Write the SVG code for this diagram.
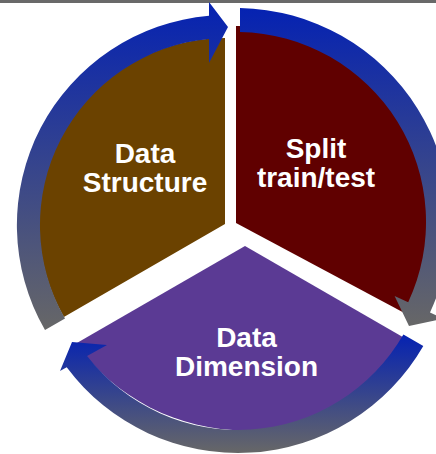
<svg xmlns="http://www.w3.org/2000/svg" width="436" height="454" viewBox="0 0 436 454">
<defs>
<linearGradient id="arrowGrad" x1="0" y1="0" x2="0" y2="1">
<stop offset="0" stop-color="#0522B2"/>
<stop offset="1" stop-color="#676767"/>
</linearGradient>
<style>
.label{font-family:"Liberation Sans",Arial,sans-serif;font-weight:bold;font-size:28px;fill:#FFFFFF;text-anchor:middle}
.arrow{fill:url(#arrowGrad)}
</style>
</defs>
<rect x="0" y="0" width="436" height="3" fill="#696969"/>
<g id="node-data-structure">
<path d="M 225,224 L 63.9,317 A 186 186 0 0 1 225,38 Z" fill="#6B4200"/>
<text class="label" x="145" y="163">Data</text>
<text class="label" x="145" y="192">Structure</text>
</g>
<g id="node-split">
<path d="M 236,223 L 236,26 A 196 196 0 0 1 410,316 Z" fill="#600000"/>
<text class="label" x="316" y="158">Split</text>
<text class="label" x="316" y="187">train/test</text>
</g>
<g id="node-data-dimension">
<path d="M 245,246 L 414,343.6 A 208 208 0 0 1 76,343.6 Z" fill="#5B3A94"/>
<text class="label" x="246.5" y="347">Data</text>
<text class="label" x="246.5" y="376">Dimension</text>
</g>
<g id="connectors">
<path class="arrow" d="M 45,330 A 210 210 0 0 1 209,15.8 L 209,2 L 228,27 L 209,63 L 209,38.9 A 187 187 0 0 0 65,318.5 Z"/>
<path class="arrow" d="M 240,8 A 214 214 0 0 1 430,312.4 L 443.5,318.8 L 409,326 L 394.6,296 L 408.2,302.3 A 190 190 0 0 0 240,32 Z"/>
<path class="arrow" d="M 423.3,346 A 214 214 0 0 1 66.7,367.3 L 60,371 L 72,342 L 107,345 L 87.1,356 A 191 191 0 0 0 403.4,334.5 Z"/>
</g>
</svg>
